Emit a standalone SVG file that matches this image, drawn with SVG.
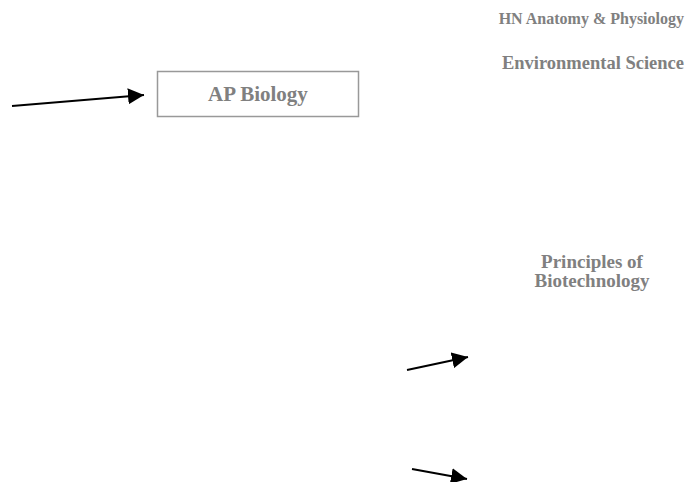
<svg xmlns="http://www.w3.org/2000/svg" width="688" height="482" viewBox="0 0 688 482">
<style>
.t{font-family:"Liberation Serif","Times New Roman",serif;font-weight:bold;fill:#808080}
.c{stroke:#000;stroke-width:2;fill:none}
</style>
<defs>
<marker id="ah2" viewBox="0 0 10 10" refX="10" refY="5" markerWidth="16" markerHeight="16" markerUnits="userSpaceOnUse" orient="auto">
<path d="M0,0 L10,5 L0,10 z" fill="#000"/>
</marker>
</defs>
<rect width="688" height="482" fill="#fff"/>
<g id="ap-biology">
<rect x="157.5" y="71.5" width="201" height="45" fill="#fff" stroke="#999" stroke-width="1.5"/>
<text class="t" x="258" y="101" text-anchor="middle" font-size="21">AP Biology</text>
</g>
<g id="hn-anatomy">
<text class="t" x="684" y="24" text-anchor="end" font-size="16">HN Anatomy &amp; Physiology</text>
</g>
<g id="env-science">
<text class="t" x="684" y="69" text-anchor="end" font-size="18.5">Environmental Science</text>
</g>
<g id="biotech">
<text class="t" x="592" y="268" text-anchor="middle" font-size="19">Principles of</text>
<text class="t" x="592" y="287" text-anchor="middle" font-size="19">Biotechnology</text>
</g>
<g id="connectors">
<line class="c" x1="12" y1="106" x2="144" y2="95" marker-end="url(#ah2)"/>
<line class="c" x1="407" y1="370" x2="468" y2="357" marker-end="url(#ah2)"/>
<line class="c" x1="412" y1="469" x2="467" y2="479" marker-end="url(#ah2)"/>
</g>
</svg>
